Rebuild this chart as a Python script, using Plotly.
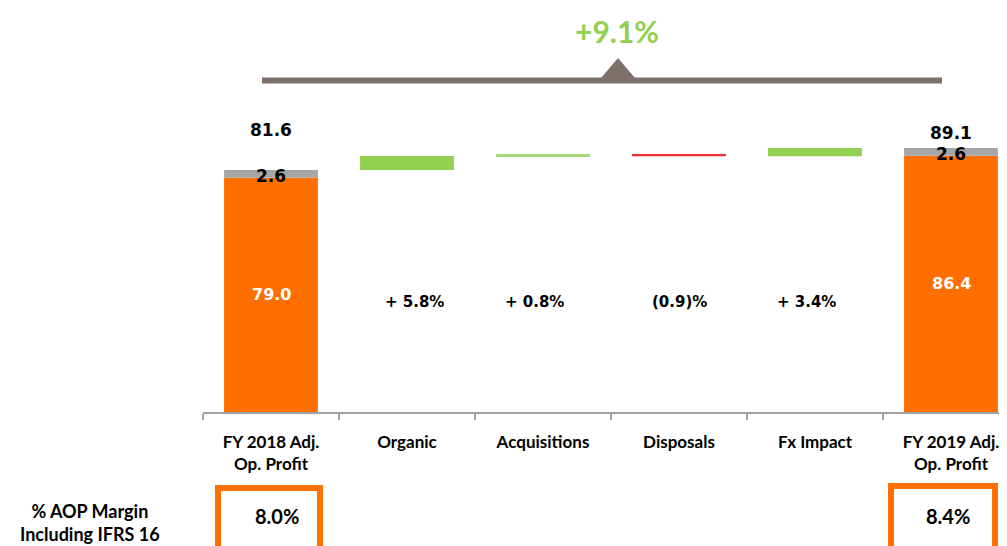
import plotly.graph_objects as go

# ---------------- data ----------------
categories = ["FY 2018 Adj.<br>Op. Profit", "Organic", "Acquisitions",
              "Disposals", "Fx Impact", "FY 2019 Adj.<br>Op. Profit"]
cat_keys = ["FY2018", "Organic", "Acquisitions", "Disposals", "Fx Impact", "FY2019"]

aop_excl_ifrs = [79.0, 86.4]          # orange part of end bars
ifrs16 = [2.6, 2.6]                   # grey part of end bars
aop_totals = [81.6, 89.1]             # totals above end bars

bridge_values = [4.7, 0.65, -0.73, 2.75]      # movement (in units) per step
bridge_labels = ["+ 5.8%", "+ 0.8%", "(0.9)%", "+ 3.4%"]

total_growth = "+9.1%"
margin_labels = ["8.0%", "8.4%"]
margin_title = "% AOP Margin<br>Including IFRS 16"

# ---------------- style ----------------
ORANGE = "#FF6F00"
GREY = "#A6A6A6"
GREEN = "#92D050"
LIGHTGREEN = "#A6D97A"
RED = "#F22F2F"
BRACKET = "#7E716C"
NUMFONT = "DejaVu Sans"
LBLFONT = "Lato"

OFF = 8                       # page body margin in the browser
W, H = 1007 - OFF, 546 - OFF
AXIS_Y = 412                  # screen pixel of the baseline
L, T = 203 - OFF, 100 - OFF
B = H - (AXIS_Y - OFF)
PLOT_W = W - L
PLOT_H = H - T - B

def px(xs):   # screen x pixel -> paper
    return (xs - OFF - L) / PLOT_W

def py(ys):   # screen y pixel -> paper
    return (AXIS_Y - ys) / PLOT_H

fig = go.Figure()

end_x = [cat_keys[0], cat_keys[-1]]
fig.add_trace(go.Bar(x=end_x, y=aop_excl_ifrs, marker=dict(color=ORANGE, line_width=0),
                     width=0.69, hoverinfo="skip"))
fig.add_trace(go.Bar(x=end_x, y=ifrs16, base=aop_excl_ifrs,
                     marker=dict(color=GREY, line_width=0), width=0.69, hoverinfo="skip"))

# bridge steps
running = aop_totals[0]
bases, colors = [], []
for i, v in enumerate(bridge_values):
    bases.append(running)
    running += v
    if v < 0:
        colors.append(RED)
    elif abs(v) < 1:
        colors.append(LIGHTGREEN)
    else:
        colors.append(GREEN)
fig.add_trace(go.Bar(x=cat_keys[1:5], y=bridge_values, base=bases,
                     marker=dict(color=colors, line_width=0), width=0.69, hoverinfo="skip"))

C = dict(xanchor="center", yanchor="middle", showarrow=False)

# labels on end bars
for k, orange, grey in zip(end_x, aop_excl_ifrs, ifrs16):
    fig.add_annotation(x=k, y=orange / 2, text=f"<b>{orange:.1f}</b>", **C,
                       font=dict(family=NUMFONT, size=16, color="white"))
    fig.add_annotation(x=k, y=orange + grey / 2, text=f"<b>{grey:.1f}</b>", **C,
                       yshift=-2, font=dict(family=NUMFONT, size=17, color="black"))
for k, tot, ys in zip(end_x, aop_totals, [40, 15]):
    fig.add_annotation(x=k, y=tot, text=f"<b>{tot:.1f}</b>", **C, yshift=ys,
                       font=dict(family=NUMFONT, size=17, color="black"))

# step percentage labels
shifts = [7, -9, 0, -9]
for k, lbl, s in zip(cat_keys[1:5], bridge_labels, shifts):
    fig.add_annotation(x=k, y=aop_excl_ifrs[0] / 2 - 2.5, text=f"<b>{lbl}</b>", **C,
                       xshift=s, font=dict(family=NUMFONT, size=15, color="black"))

# growth bracket
fig.add_shape(type="line", xref="paper", yref="paper", x0=px(262), x1=px(942),
              y0=py(80.5), y1=py(80.5), line=dict(color=BRACKET, width=6))
fig.add_shape(type="path", xref="paper", yref="paper",
              path=f"M {px(601)},{py(78)} L {px(618)},{py(58)} L {px(635)},{py(78)} Z",
              fillcolor=BRACKET, line=dict(color=BRACKET, width=0))
fig.add_annotation(xref="paper", yref="paper", x=px(617), y=py(31), text=f"<b>{total_growth}</b>",
                   **C, font=dict(family=LBLFONT, size=30, color=GREEN))

# margin boxes
for (x0, x1, y0, dx), lbl in zip([(218, 320, 488, 8), (891, 995, 486, 5)], margin_labels):
    fig.add_shape(type="rect", xref="paper", yref="paper", x0=px(x0), x1=px(x1),
                  y0=py(y0), y1=py(580), line=dict(color=ORANGE, width=6), fillcolor="white")
    fig.add_annotation(xref="paper", yref="paper", x=px((x0 + x1) / 2 + dx), y=py(516),
                       text=f"<b>{lbl}</b>", **C,
                       font=dict(family=LBLFONT, size=20, color="black"))
fig.add_annotation(xref="paper", yref="paper", x=px(90), y=py(522), text=f"<b>{margin_title}</b>",
                   **C, align="center",
                   font=dict(family=LBLFONT, size=18, color="black"))

fig.update_layout(
    width=W, height=H, barmode="overlay", showlegend=False,
    margin=dict(l=L, r=0, t=T, b=B, autoexpand=False),
    plot_bgcolor="white", paper_bgcolor="white",
    xaxis=dict(type="category", categoryorder="array", categoryarray=cat_keys,
               tickmode="array", tickvals=cat_keys, ticktext=[f"<b>{c}</b>" for c in categories],
               range=[-0.5, -0.5 + PLOT_W / 136], showline=True, linecolor="#A0A0A0", linewidth=1.5,
               ticks="outside", tickson="boundaries", ticklen=6, tickcolor="#A0A0A0", tickwidth=1.5,
               showgrid=False, ticklabelstandoff=14, automargin=False,
               tickfont=dict(family=LBLFONT, size=17, color="black")),
    yaxis=dict(range=[0, PLOT_H / 2.966], visible=False, showgrid=False, zeroline=False),
)

fig.write_html("out.html")
